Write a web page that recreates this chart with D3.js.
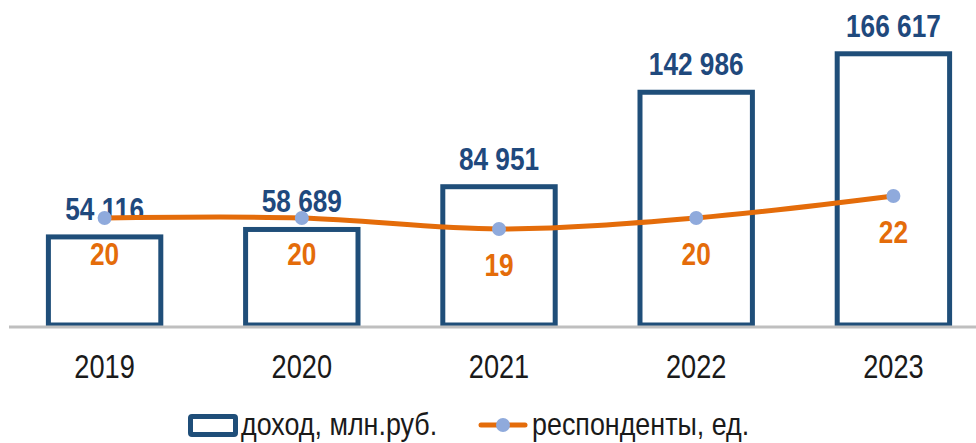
<!DOCTYPE html>
<html>
<head>
  <meta charset="utf-8">
  <title>Доход и респонденты</title>
  <style>
    body { margin: 0; background: #fff; }
    svg text { font-family: "Liberation Sans", Arial, sans-serif; }
    .bar-label { font-size: 32px; font-weight: bold; fill: #1F497D; text-anchor: middle; }
    .line-label { font-size: 32px; font-weight: bold; fill: #E46C0A; text-anchor: middle; }
    .year { font-size: 34px; fill: #1a1a1a; text-anchor: middle; }
    .legend-text { font-size: 32px; fill: #1a1a1a; }
  </style>
</head>
<body>
  <svg id="chart"></svg>
  <script src="https://d3js.org/d3.v7.min.js"></script>
  <script>
    // data
    const years = ["2019", "2020", "2021", "2022", "2023"];
    const income = [54116, 58689, 84951, 142986, 166617];
    const respondents = [20, 20, 19, 20, 22];
    const seriesNames = ["доход, млн.руб.", "респонденты, ед."];

    const width = 976;
    const height = 443;
    const baseline = 325;
    const narrow = 0.82; // Arial Narrow look from Liberation Sans

    const svg = d3.select("#chart")
      .attr("width", width)
      .attr("height", height);

    const x = d3.scaleBand()
      .domain(years)
      .range([6, 992])
      .paddingInner(0.43)
      .paddingOuter(0.215);

    const y = d3.scaleLinear()
      .domain([0, 180000])
      .range([baseline, 32]);

    // secondary axis for respondents
    const y2 = d3.scaleLinear()
      .domain([14, 24])
      .range([284, 174]);

    const fmt = d => d3.format(",")(d).replace(/,/g, " ");
    const cx = d => x(d) + x.bandwidth() / 2;
    const place = (px, py, s = narrow) => `translate(${px},${py}) scale(${s},1)`;

    // bars
    svg.selectAll(".bar")
      .data(years)
      .enter()
      .append("rect")
      .attr("class", "bar")
      .attr("x", d => x(d))
      .attr("width", x.bandwidth())
      .attr("y", (d, i) => y(income[i]))
      .attr("height", (d, i) => baseline - y(income[i]))
      .attr("fill", "#fff")
      .attr("stroke", "#1F4E79")
      .attr("stroke-width", 5);

    // category axis line
    svg.append("line")
      .attr("x1", 9)
      .attr("x2", width)
      .attr("y1", baseline + 2)
      .attr("y2", baseline + 2)
      .attr("stroke", "#BFBFBF")
      .attr("stroke-width", 3);

    // bar labels
    svg.selectAll(".bar-label")
      .data(years)
      .enter()
      .append("text")
      .attr("class", "bar-label")
      .attr("transform", (d, i) => place(cx(d), y(income[i]) - 17))
      .text((d, i) => fmt(income[i]));

    // respondents line
    const line = d3.line()
      .x((d, i) => cx(years[i]))
      .y(d => y2(d))
      .curve(d3.curveCatmullRom.alpha(0.5));

    svg.append("path")
      .datum(respondents)
      .attr("d", line)
      .attr("fill", "none")
      .attr("stroke", "#E46C0A")
      .attr("stroke-width", 5)
      .attr("stroke-linecap", "round");

    svg.selectAll(".marker")
      .data(respondents)
      .enter()
      .append("circle")
      .attr("class", "marker")
      .attr("cx", (d, i) => cx(years[i]))
      .attr("cy", d => y2(d))
      .attr("r", 7)
      .attr("fill", "#8FAADC");

    svg.selectAll(".line-label")
      .data(respondents)
      .enter()
      .append("text")
      .attr("class", "line-label")
      .attr("transform", (d, i) => place(cx(years[i]), y2(d) + 47))
      .text(d => d);

    // year labels
    svg.selectAll(".year")
      .data(years)
      .enter()
      .append("text")
      .attr("class", "year")
      .attr("transform", d => place(cx(d), 378, 0.8))
      .text(d => d);

    // legend
    const legend = svg.append("g");
    legend.append("rect")
      .attr("x", 190.5)
      .attr("y", 416.5)
      .attr("width", 45)
      .attr("height", 18)
      .attr("rx", 1.5)
      .attr("fill", "#fff")
      .attr("stroke", "#1F4E79")
      .attr("stroke-width", 5);
    legend.append("text")
      .attr("class", "legend-text")
      .attr("transform", place(241, 435, 0.84))
      .text(seriesNames[0]);

    legend.append("line")
      .attr("x1", 481)
      .attr("x2", 525)
      .attr("y1", 425)
      .attr("y2", 425)
      .attr("stroke", "#E46C0A")
      .attr("stroke-width", 5)
      .attr("stroke-linecap", "round");
    legend.append("circle")
      .attr("cx", 503)
      .attr("cy", 425)
      .attr("r", 7)
      .attr("fill", "#8FAADC");
    legend.append("text")
      .attr("class", "legend-text")
      .attr("transform", place(532, 435, 0.84))
      .text(seriesNames[1]);
  </script>
</body>
</html>
